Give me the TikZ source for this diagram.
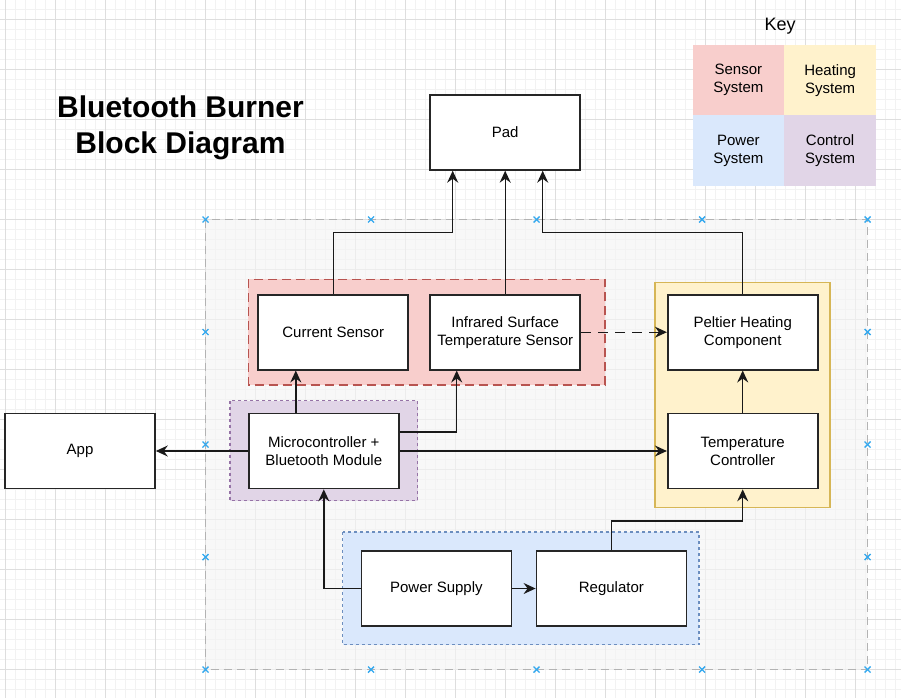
\documentclass[tikz,border=0pt]{standalone}
\usepackage{fontspec}
\setmainfont{Liberation Sans}
\usetikzlibrary{arrows.meta}

\definecolor{gridminor}{HTML}{F2F2F2}
\definecolor{gridmajor}{HTML}{DEDEDE}
\definecolor{sensorfill}{HTML}{F8CECC}
\definecolor{sensorline}{HTML}{B85450}
\definecolor{heatfill}{HTML}{FFF2CC}
\definecolor{heatline}{HTML}{D6B656}
\definecolor{powerfill}{HTML}{DAE8FC}
\definecolor{powerline}{HTML}{6C8EBF}
\definecolor{ctrlfill}{HTML}{E1D5E7}
\definecolor{ctrlline}{HTML}{9673A6}
\definecolor{boardfill}{HTML}{F5F5F5}
\definecolor{boardline}{HTML}{B3B3B3}
\definecolor{pincolor}{HTML}{33A8EE}

\begin{document}
\begin{tikzpicture}[x=1pt,y=-1pt,>={Stealth[length=12pt,width=11pt,inset=4pt]},
  font=\fontsize{15}{18}\selectfont]

  \tikzstyle{block}=[rectangle,draw=black!85,line width=1.6pt,fill=white,
    minimum width=150pt,minimum height=75pt,inner sep=0pt,align=center]
  \tikzstyle{keycell}=[rectangle,minimum width=91.5pt,minimum height=70.5pt,
    inner sep=0pt,align=center]
  \tikzstyle{wire}=[->,line width=1.4pt,black!90]
  \tikzstyle{xpin}=[pincolor,line width=1.4pt]

  \useasboundingbox (0,0) rectangle (901,698);

  % background grid
  \foreach \x in {5.7,15.7,...,900} \draw[gridminor,line width=0.8pt] (\x,0) -- (\x,698);
  \foreach \y in {9.3,19.3,...,698} \draw[gridminor,line width=0.8pt] (0,\y) -- (901,\y);
  \foreach \x in {5.7,55.7,...,900} \draw[gridmajor,line width=1pt] (\x,0) -- (\x,698);
  \foreach \y in {19.3,69.3,...,698} \draw[gridmajor,line width=1pt] (0,\y) -- (901,\y);

  % container and system groups
  \draw[boardline,fill=boardfill,fill opacity=0.65,line width=1.4pt,dash pattern=on 8pt off 5pt]
    (205.5,219.5) rectangle (867.5,669.5);
  \draw[sensorline,fill=sensorfill,line width=1.5pt,dash pattern=on 9pt off 5pt]
    (248.3,279.3) rectangle (605,385);
  \draw[heatline,fill=heatfill,line width=1.5pt] (655,282.3) rectangle (830,507.3);
  \draw[ctrlline,fill=ctrlfill,line width=1.3pt,dash pattern=on 3pt off 3pt]
    (230,400.7) rectangle (417.7,500.7);
  \draw[powerline,fill=powerfill,line width=1.3pt,dash pattern=on 3pt off 3pt]
    (342.5,532) rectangle (699,644.7);

  \foreach \x in {205.5,371,536.5,702,867.5}
    \foreach \y in {219.5,669.5} {
      \draw[xpin] ({\x-3},{\y-3}) -- ({\x+3},{\y+3});
      \draw[xpin] ({\x-3},{\y+3}) -- ({\x+3},{\y-3});
    }
  \foreach \x in {205.5,867.5}
    \foreach \y in {332,444.5,557} {
      \draw[xpin] ({\x-3},{\y-3}) -- ({\x+3},{\y+3});
      \draw[xpin] ({\x-3},{\y+3}) -- ({\x+3},{\y-3});
    }

  % title and key
  \node[align=center,font=\fontsize{30}{36}\selectfont\bfseries] (title) at (180.5,128)
    {Bluetooth Burner\\Block Diagram};
  \node[font=\fontsize{18}{22}\selectfont] (key) at (780,26) {Key};
  \node[keycell,fill=sensorfill] (ksensor) at (738.4,80.2) {Sensor\\System};
  \node[keycell,fill=heatfill]   (kheat)   at (830.1,80.2) {Heating\\System};
  \node[keycell,fill=powerfill]  (kpower)  at (738.4,150.5) {Power\\System};
  \node[keycell,fill=ctrlfill]   (kctrl)   at (830.1,150.5) {Control\\System};

  % blocks
  \node[block] (pad) at (505.2,132.4) {Pad};
  \node[block] (cur) at (333.2,332.2) {Current Sensor};
  \node[block] (ir)  at (505.2,332.2) {Infrared Surface\\Temperature Sensor};
  \node[block] (pel) at (742.7,332.2) {Peltier Heating\\Component};
  \node[block] (app) at (80,451) {App};
  \node[block] (mcu) at (323.8,451) {Microcontroller +\\Bluetooth Module};
  \node[block] (tc)  at (742.7,451) {Temperature\\Controller};
  \node[block] (ps)  at (436.4,588.5) {Power Supply};
  \node[block] (reg) at (611.4,588.5) {Regulator};

  % connections
  \draw[wire] (cur.north) |- (452.7,232.3) -- ([xshift=-52.5pt]pad.south);
  \draw[wire] (ir.north) -- (pad.south);
  \draw[wire] (pel.north) |- (542.7,232.3) -- ([xshift=37.5pt]pad.south);
  \draw[wire,dash pattern=on 10pt off 7pt] (ir.east) -- (pel.west);
  \draw[wire] (tc.north) -- (pel.south);
  \draw[wire] (mcu.west) -- (app.east);
  \draw[wire] ([xshift=-28pt]mcu.north) -- ([xshift=-28pt]mcu.north |- cur.south);
  \draw[wire] ([yshift=19pt]mcu.east) -| ([xshift=-48.5pt]ir.south);
  \draw[wire] (mcu.east) -- (tc.west);
  \draw[wire] (ps.west) -| (mcu.south);
  \draw[wire] (ps.east) -- (reg.west);
  \draw[wire] (reg.north) |- ([yshift=-31.5pt]tc.south) -- (tc.south);

\end{tikzpicture}
\end{document}
